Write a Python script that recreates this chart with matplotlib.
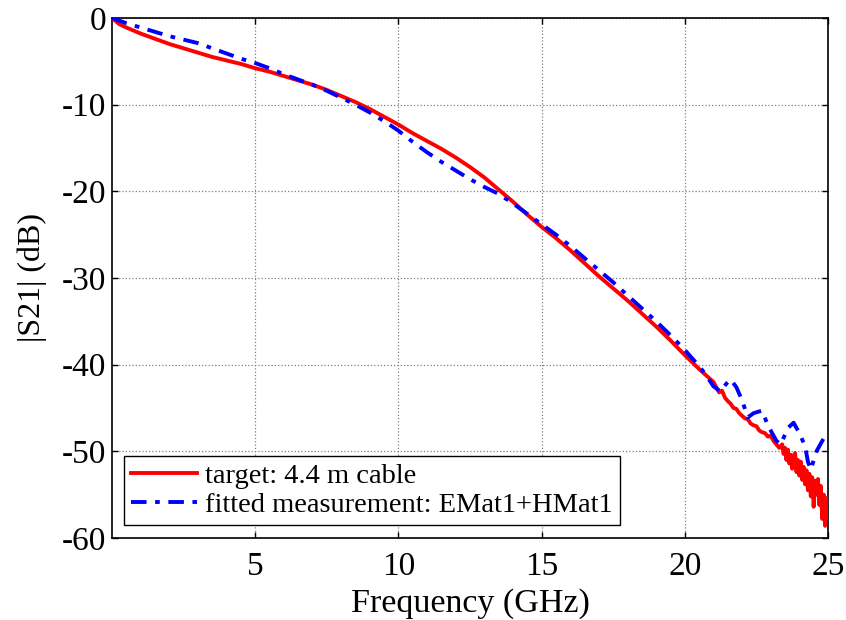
import matplotlib as mpl
mpl.use('Agg')

import matplotlib.pyplot as plt
import numpy as np

plt.rcParams['font.family'] = ['Liberation Serif', 'DejaVu Serif']

# Target cable response, |S21| in dB
freq_target = [0, 0.25, 0.5, 1, 1.5, 2, 2.5, 3, 3.5, 4, 4.5, 5, 5.5, 6, 6.5, 7, 7.5,
               8, 8.5, 9, 9.5, 10, 10.5, 11, 11.5, 12, 12.5, 13, 13.5, 14, 14.5, 15,
               15.5, 16, 16.5, 17, 17.5, 18, 18.5, 19, 19.5, 20, 20.5, 21,
               21.1, 21.2, 21.3, 21.4, 21.5, 21.6, 21.7, 21.8, 21.9, 22.0, 22.1, 22.2,
               22.3, 22.4, 22.5, 22.6, 22.7, 22.8, 22.9, 23.0, 23.1, 23.2, 23.3, 23.4,
               23.45, 23.5, 23.55, 23.6, 23.65, 23.7, 23.75, 23.8, 23.85, 23.9, 23.95,
               24.0, 24.05, 24.1, 24.15, 24.2, 24.25, 24.3, 24.35, 24.4, 24.45, 24.5,
               24.55, 24.6, 24.65, 24.7, 24.75, 24.8, 24.85, 24.9, 24.95, 25.0]
s21_target = [0, -0.7, -1.1, -1.8, -2.4, -3.0, -3.5, -4.0, -4.5, -4.9, -5.3, -5.8, -6.2,
              -6.7, -7.2, -7.7, -8.3, -9.0, -9.7, -10.5, -11.4, -12.3, -13.3, -14.2,
              -15.1, -16.1, -17.2, -18.4, -19.8, -21.2, -22.7, -24.1, -25.4, -26.8,
              -28.3, -29.8, -31.2, -32.6, -34.1, -35.6, -37.2, -38.9, -40.5, -42.0,
              -42.6, -43.2, -43.0, -43.8, -44.2, -44.5, -45.0, -45.1, -45.6, -45.9,
              -46.2, -46.3, -46.8, -47.0, -47.1, -47.6, -47.8, -47.9, -48.3, -48.2,
              -48.8, -49.2, -49.6, -49.2, -50.3, -49.6, -51.0, -49.8, -51.4, -50.4,
              -52.0, -50.6, -50.2, -52.4, -51.0, -52.8, -51.2, -53.3, -51.8,
              -53.8, -52.2, -54.5, -52.6, -55.2, -53.0, -56.4, -53.4, -55.0, -53.2,
              -56.2, -54.0, -57.8, -55.0, -58.6, -55.4, -57.6]

# Fitted measurement EMat1+HMat1, |S21| in dB
freq_fit = [0, 0.5, 1, 1.5, 2, 2.5, 3, 3.5, 4, 4.5, 5, 5.5, 6, 6.5, 7, 7.5, 8, 8.5, 9,
            9.5, 10, 10.5, 11, 11.5, 12, 12.5, 13, 13.5, 14, 14.5, 15, 15.5, 16, 16.5,
            17, 17.5, 18, 18.5, 19, 19.5, 20, 20.4, 20.7, 21.0, 21.25, 21.45, 21.6,
            21.8, 22.0, 22.2, 22.4, 22.7, 22.9, 23.2, 23.35, 23.6, 23.8, 24.0, 24.2,
            24.3, 24.4, 24.6, 24.8, 24.95]
s21_fit = [0, -0.6, -1.1, -1.6, -2.1, -2.5, -2.9, -3.5, -4.1, -4.7, -5.2, -5.8, -6.5,
           -7.1, -7.7, -8.4, -9.2, -10.0, -10.9, -11.9, -13.0, -14.3, -15.5, -16.6,
           -17.6, -18.6, -19.5, -20.3, -21.4, -22.6, -23.8, -25.0, -26.3, -27.7,
           -29.1, -30.5, -32.0, -33.5, -35.0, -36.6, -38.3, -39.8, -41.0, -42.5,
           -43.1, -42.2, -41.7, -42.6, -44.1, -46.1, -45.6, -45.3, -47.0, -48.8,
           -49.2, -47.3, -46.7, -47.9, -49.4, -51.2, -52.1, -50.0, -48.8, -47.9]

fig = plt.figure(figsize=(8.46, 6.2), dpi=100)
ax = fig.add_axes([0.1324, 0.1323, 0.8463, 0.8387])

ax.plot(freq_target, s21_target, color='#ff0000', lw=2.8, solid_joinstyle='round',
        label='target: 4.4 m cable', zorder=3)
ax.plot(freq_fit, s21_fit, color='#0000ff', lw=2.8, ls='-.',
        dashes=(4, 2.2, 1.2, 2.2), label='fitted measurement: EMat1+HMat1', zorder=4)

ax.set_xlim(0, 25)
ax.set_ylim(-60, 0)
ax.set_xticks([5, 10, 15, 20, 25])
ax.set_yticks(np.arange(-60, 1, 10))
ax.set_yticklabels(['-60', '-50', '-40', '-30', '-20', '-10', '0'])

ax.grid(True, color='0.5', ls=':', lw=0.9)
ax.set_axisbelow(True)

ax.tick_params(direction='in', length=4, width=1, top=True, right=True,
               labelsize=24, colors='black')
ax.tick_params(axis='x', pad=10)
ax.tick_params(axis='y', pad=4)
for sp in ax.spines.values():
    sp.set_linewidth(1.2)
    sp.set_color('black')

ax.set_xlabel('Frequency (GHz)', fontsize=24.5, labelpad=4)
ax.set_ylabel('|S21| (dB)', fontsize=23, labelpad=11)

leg = ax.legend(loc='lower left', bbox_to_anchor=(0.017, 0.025), borderaxespad=0,
                fontsize=20.5, handlelength=2.3, fancybox=False, framealpha=1,
                edgecolor='black', borderpad=0.25, labelspacing=0.1,
                handletextpad=0.3)
leg.get_frame().set_linewidth(1.0)

fig.savefig('out.png', dpi=100)
